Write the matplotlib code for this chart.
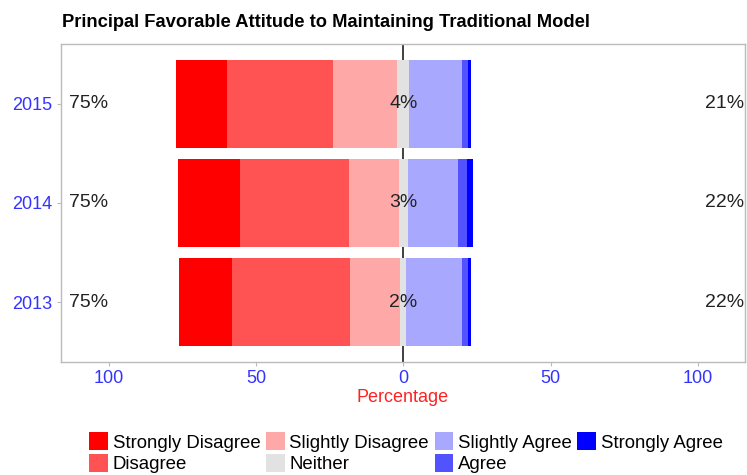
import matplotlib
matplotlib.use("Agg")
import matplotlib.pyplot as plt
import numpy as np

plt.rcParams['font.family'] = ['Liberation Sans', 'DejaVu Sans']

years = ["2013", "2014", "2015"]
categories = ["Strongly Disagree", "Disagree", "Slightly Disagree", "Neither",
              "Slightly Agree", "Agree", "Strongly Agree"]
strongly_disagree = [18, 21, 17]
disagree = [40, 37, 36]
slightly_disagree = [17, 17, 22]
neither = [2, 3, 4]
slightly_agree = [19, 17, 18]
agree = [2, 3, 2]
strongly_agree = [1, 2, 1]
colors = ["#FF0000", "#FF5252", "#FFA8A8", "#E2E2E2", "#A8A8FF", "#5252FF", "#0000FF"]
xticks = [-100, -50, 0, 50, 100]
xticklabels = ["100", "50", "0", "50", "100"]

series = [strongly_disagree, disagree, slightly_disagree, neither,
          slightly_agree, agree, strongly_agree]

fig = plt.figure(figsize=(7.47, 4.75), dpi=100)
ax = fig.add_axes([0.0817, 0.2379, 0.9156, 0.6695])

ypos = np.arange(1, len(years) + 1)
data = np.array(series, dtype=float)
start = -(data[0] + data[1] + data[2] + data[3] / 2.0)
ax.axvline(0, color="#404040", lw=1.4, zorder=1)
left = start.copy()
handles = []
for vals, col, name in zip(data, colors, categories):
    h = ax.barh(ypos, vals, left=left, height=0.885, color=col, label=name,
                zorder=2, linewidth=0)
    handles.append(h)
    left = left + vals

neg = data[0] + data[1] + data[2]
pos = data[4] + data[5] + data[6]
for y, n, c, p in zip(ypos, neg, data[3], pos):
    ax.text(-107, y, f"{int(round(n))}%", ha="center", va="center", fontsize=14, color="#222222")
    ax.text(0, y, f"{int(round(c))}%", ha="center", va="center", fontsize=14, color="#222222", zorder=5)
    ax.text(109, y, f"{int(round(p))}%", ha="center", va="center", fontsize=14, color="#222222")

ax.set_xlim(-116.2, 116)
ax.set_ylim(0.4, 3.6)
ax.set_yticks(ypos)
ax.set_yticklabels(years)
ax.set_xticks(xticks)
ax.set_xticklabels(xticklabels)
ax.tick_params(axis="both", colors="#BBBBBB", labelcolor="#3333FF", labelsize=13, length=3)
ax.tick_params(axis="y", pad=3)
ax.tick_params(axis="x", pad=3)
ax.set_xlabel("Percentage", color="#FF2222", fontsize=13, labelpad=1)
for s in ax.spines.values():
    s.set_color("#BBBBBB")
    s.set_linewidth(1.0)

fig.text(0.083, 0.953, "Principal Favorable Attitude to Maintaining Traditional Model",
         fontsize=13.2, fontweight="bold", ha="left", va="center")

fig.legend(handles=handles, labels=categories, ncol=4, loc="upper center",
           bbox_to_anchor=(0.5435, 0.09), frameon=False, fontsize=13.4,
           handlelength=1.0, handleheight=1.1, handletextpad=0.25,
           columnspacing=0.3, labelspacing=0.12, borderaxespad=0, borderpad=0)

fig.savefig("out.png", dpi=100)
